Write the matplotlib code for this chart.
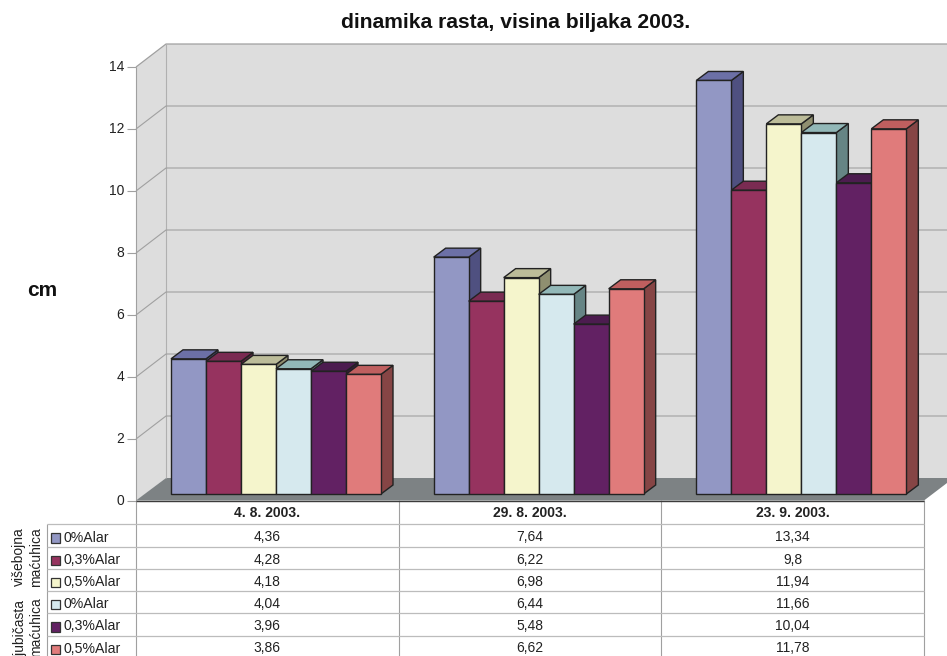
import matplotlib
matplotlib.use('Agg')
import matplotlib.pyplot as plt
from matplotlib.patches import Polygon, Rectangle
from matplotlib.transforms import Affine2D

# -------------------------
# data
# -------------------------
dates = ['4. 8. 2003.', '29. 8. 2003.', '23. 9. 2003.']
series = ['0%Alar', '0,3%Alar', '0,5%Alar', '0%Alar', '0,3%Alar', '0,5%Alar']
v1 = [4.36, 7.64, 13.34]
v2 = [4.28, 6.22, 9.8]
v3 = [4.18, 6.98, 11.94]
v4 = [4.04, 6.44, 11.66]
v5 = [3.96, 5.48, 10.04]
v6 = [3.86, 6.62, 11.78]
v_labels1 = ['4,36', '7,64', '13,34']
v_labels2 = ['4,28', '6,22', '9,8']
v_labels3 = ['4,18', '6,98', '11,94']
v_labels4 = ['4,04', '6,44', '11,66']
v_labels5 = ['3,96', '5,48', '10,04']
v_labels6 = ['3,86', '6,62', '11,78']
yticks = [0, 2, 4, 6, 8, 10, 12, 14]

values = [v1, v2, v3, v4, v5, v6]
labels = [v_labels1, v_labels2, v_labels3, v_labels4, v_labels5, v_labels6]

# front, top, side
colors = [('#9297c4', '#6c70a6', '#4f5080'),
          ('#96335f', '#7a2b52', '#5e2240'),
          ('#f5f5cc', '#bcbc99', '#8f8f70'),
          ('#d6e9ee', '#92b8b8', '#668585'),
          ('#622163', '#4c1c4f', '#3a163c'),
          ('#e07b7b', '#bf5f5f', '#864545')]

plt.rcParams['font.family'] = ['Liberation Sans', 'DejaVu Sans']

W, H = 947, 656
fig = plt.figure(figsize=(W / 100, H / 100), dpi=100)
ax = fig.add_axes([0, 0, 1, 1])
ax.axis('off')

# 1 category = 262.67 px starting at x=136, 1 cm = 31 px with 0 at y=501
GW = 262.67
PY = 31.0
Y0 = 501
ax.set_xlim(-136 / GW, (W - 136) / GW)
ax.set_ylim((Y0 - H) / PY, Y0 / PY)

# image pixel coordinates for the frame and the table
px = Affine2D().scale(1 / W, -1 / H).translate(0, 1) + fig.transFigure


def poly(pts, fc, ec='none', lw=0, z=1):
    ax.add_patch(Polygon(pts, closed=True, facecolor=fc, edgecolor=ec,
                         linewidth=lw, transform=px, zorder=z))


def line(xs, ys, c='#a0a0a0', lw=0.8, z=2):
    ax.plot(xs, ys, color=c, linewidth=lw, transform=px, zorder=z,
            solid_capstyle='butt', clip_on=False)


# -------------------------
# walls and floor
# -------------------------
poly([(166, 44), (947, 44), (947, 478), (166, 478)], '#dddddd')
poly([(136, 67), (166, 44), (166, 478), (136, 501)], '#dddddd')
poly([(136, 500.5), (166, 478), (947, 478), (947, 483), (924, 500.5)], '#7d8284')
line([136, 166, 947], [67, 44, 44], '#a0a0a0', 0.9)
line([166, 166], [44, 478], '#b0b0b0', 0.8)
line([136, 136], [67, 656], '#a0a0a0', 0.8)
line([136, 924], [500.5, 500.5], '#3c3c3c', 1.0, 3)

for t in yticks:
    y = Y0 - t * PY
    if 0 < t < 14:
        line([136, 166, 947], [y, y - 23, y - 23], '#a0a0a0', 0.8)
    line([127, 136], [y, y], '#a0a0a0', 0.8)
    ax.text(124, y, str(t), transform=px, ha='right', va='center', fontsize=10, color='#222222')

# -------------------------
# bars
# -------------------------
bw = 35.0 / GW
x_off = 35.0 / GW
base = 7.0 / PY
dx = 12.0 / GW
dy = 9.0 / PY

z = 5
for i in range(len(dates)):
    for j in range(6):
        x = i + x_off + j * bw
        h = values[j][i]
        front, top, side = colors[j]
        # side and top first, the next bar covers them
        ax.add_patch(Polygon([(x + bw, base), (x + bw + dx, base + dy),
                              (x + bw + dx, base + h + dy), (x + bw, base + h)],
                             facecolor=side, edgecolor='#222222', linewidth=1.0, zorder=z))
        ax.add_patch(Polygon([(x, base + h), (x + dx, base + h + dy),
                              (x + bw + dx, base + h + dy), (x + bw, base + h)],
                             facecolor=top, edgecolor='#222222', linewidth=1.0, zorder=z))
        ax.bar(x, h, bw, bottom=base, align='edge', facecolor=front,
               edgecolor='#222222', linewidth=1.0, zorder=z + 1)
        z += 2

# -------------------------
# table
# -------------------------
col_x = [136, 398.5, 661, 924]
row_y = [524, 547, 569, 591, 613, 636, 658]
for cx in col_x[1:]:
    line([cx, cx], [500, 656], '#a0a0a0', 0.8)
line([47, 47], [524, 656], '#a0a0a0', 0.8)
for ry in row_y:
    line([47, 924], [ry, ry], '#bcbcbc', 0.9)

for i, d in enumerate(dates):
    cx = (col_x[i] + col_x[i + 1]) / 2
    ax.text(cx, 513, d, transform=px, ha='center', va='center', fontsize=10, fontweight='bold', color='#222222')
    for j in range(6):
        ax.text(cx, (row_y[j] + row_y[j + 1]) / 2 + 1.5, labels[j][i], transform=px,
                ha='center', va='center', fontsize=10, color='#222222')

for j in range(6):
    yc = (row_y[j] + row_y[j + 1]) / 2 + 2
    ax.add_patch(Rectangle((50.5, yc - 4.5), 9.5, 9.5, facecolor=colors[j][0], edgecolor='#333333',
                           linewidth=0.9, transform=px, zorder=4))
    ax.text(63, yc, series[j], transform=px, ha='left', va='center', fontsize=10.2, color='#222222')

ax.text(19, 557, 'višebojna', transform=px, rotation=90, ha='center', va='center', fontsize=10, color='#222222')
ax.text(36, 557, 'maćuhica', transform=px, rotation=90, ha='center', va='center', fontsize=10, color='#222222')
ax.text(19, 628, 'ljubičasta', transform=px, rotation=90, ha='center', va='center', fontsize=10, color='#222222')
ax.text(36, 627, 'maćuhica', transform=px, rotation=90, ha='center', va='center', fontsize=10, color='#222222')

ax.text(516, 22.5, 'dinamika rasta, visina biljaka 2003.', transform=px, ha='center', va='center',
        fontsize=15.25, fontweight='bold', color='#111111')
ax.text(42, 290, 'cm', transform=px, ha='center', va='center', fontsize=15, fontweight='bold', color='#111111')

fig.savefig('out.png', dpi=100)
